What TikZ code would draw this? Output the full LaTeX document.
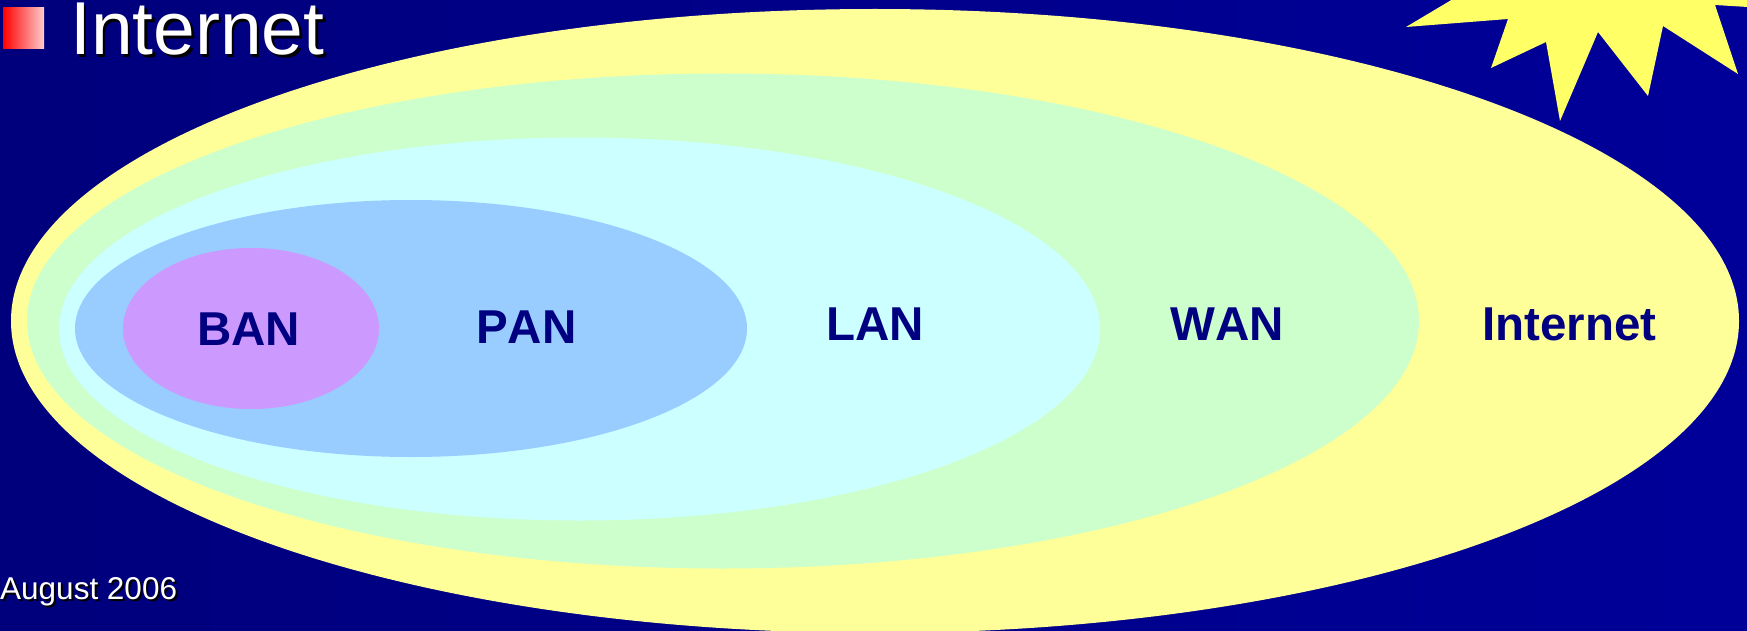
\documentclass[tikz,border=0pt]{standalone}
\usepackage{fontspec}
\setmainfont[Kerning=Off]{Liberation Sans}
\definecolor{navytxt}{HTML}{000080}
\definecolor{bgl}{HTML}{00007C}
\definecolor{bgm}{HTML}{00008C}
\definecolor{bgr}{HTML}{000099}
\tikzset{
  zone/.style={inner sep=0pt,text=navytxt,anchor=base west,font=\fontsize{47.5}{47.5}\selectfont\bfseries},
  shadowed/.style={inner sep=0pt,anchor=base west,text=white}
}
\begin{document}
\begin{tikzpicture}[x=1pt,y=-1pt]
\useasboundingbox (0,0) rectangle (1747,631);
\clip (0,0) rectangle (1747,631);
\shade[left color=bgl,middle color=bgm,right color=bgr] (0,0) rectangle (1747,631);
% sun
\fill[color={rgb,255:red,255;green,255;blue,102}]
 (1453,-1) -- (1406,27) -- (1508,19) -- (1491,68) -- (1546,42) -- (1560,121) -- (1598,32)
 -- (1648,96) -- (1663,26) -- (1738,74) -- (1715,5) -- (1748,7) -- (1748,-1) -- cycle;
% nested networks
\fill[color={rgb,255:red,255;green,255;blue,153}] (875,321) ellipse [x radius=864,y radius=312];
\fill[color={rgb,255:red,204;green,255;blue,204}] (723,321) ellipse [x radius=696,y radius=247.5];
\fill[color={rgb,255:red,204;green,255;blue,255}] (579.5,329) ellipse [x radius=520.5,y radius=191.5];
\fill[color={rgb,255:red,153;green,204;blue,255}] (411,328.5) ellipse [x radius=336,y radius=128.5];
\fill[color={rgb,255:red,204;green,153;blue,255}] (251,328.5) ellipse [x radius=128,y radius=80.5];
% labels
\node[zone] (ban) at (197,345) {BAN};
\node[zone] (pan) at (476,343) {PAN};
\node[zone] (lan) at (826,340.5) {LAN};
\node[zone] (wan) at (1170,340.5) {WAN};
\node[zone] (inet) at (1482,340.5) {Internet};
% bullet
\shade[left color=red,right color={rgb,255:red,255;green,204;blue,204}] (3,8) rectangle (44,49);
% title
\node[shadowed,text=black,font=\fontsize{75}{75}\selectfont] (titleshadow) at (72.5,58) {Internet};
\node[shadowed,font=\fontsize{75}{75}\selectfont] (title) at (70,55) {Internet};
% date
\node[shadowed,text=black,font=\fontsize{31.5}{31.5}\selectfont] (dateshadow) at (2,601) {August 2006};
\node[shadowed,font=\fontsize{31.5}{31.5}\selectfont] (date) at (0,599) {August 2006};
\end{tikzpicture}
\end{document}
